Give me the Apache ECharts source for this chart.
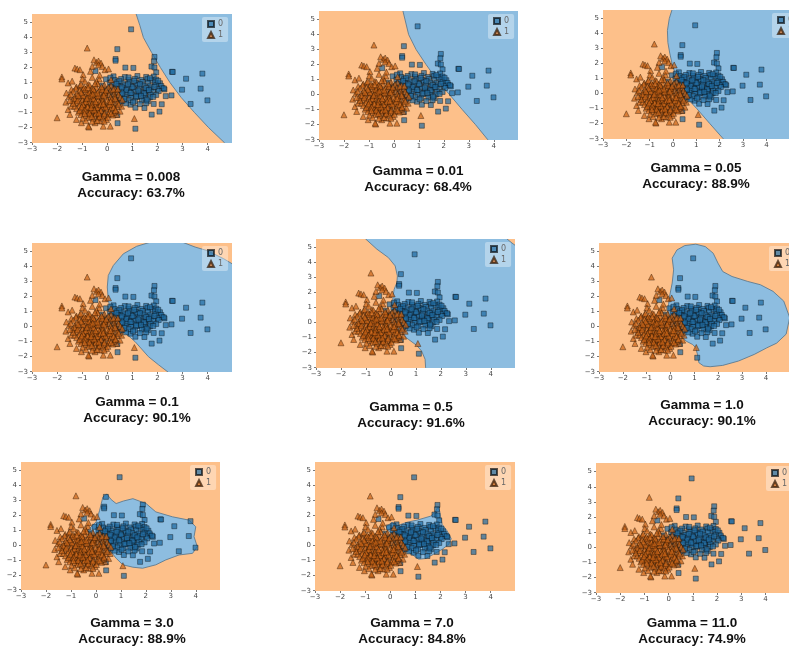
<!DOCTYPE html>
<html>
<head>
<meta charset="utf-8">
<script src="https://cdn.jsdelivr.net/npm/echarts@6/dist/echarts.min.js"></script>
<style>
html,body{margin:0;padding:0;background:#fff;}
#chart{width:789px;height:646px;}
</style>
</head>
<body>
<div id="chart"></div>
<script>
// SVM (RBF kernel) decision regions for several gamma values, same 2-D dataset in every panel.

const gammas = ['0.008', '0.01', '0.05', '0.1', '0.5', '1.0', '3.0', '7.0', '11.0'];
const accuracies = ['63.7%', '68.4%', '88.9%', '90.1%', '91.6%', '90.1%', '88.9%', '84.8%', '74.9%'];
const classNames = ['0', '1'];
const xTicks = [-3, -2, -1, 0, 1, 2, 3, 4];
const yTicks = [-3, -2, -1, 0, 1, 2, 3, 4, 5];

// class 0 samples (squares)
const class0 = [
  [0.95,4.55],[0.40,3.23],[0.33,2.57],[0.33,2.46],[-0.47,1.77],[0.72,2.00],[1.04,1.98],[1.88,2.71],
  [1.86,2.42],[1.76,2.07],[1.88,2.01],[1.95,1.68],[2.58,1.72],[2.61,1.71],[3.14,1.26],[3.79,1.60],
  [2.98,0.53],[3.72,0.60],[3.99,-0.18],[3.32,-0.42],[2.33,0.10],[2.56,0.15],[2.18,0.65],[2.28,0.55],
  [2.17,-0.44],[2.08,-0.93],[1.77,-1.13],[1.48,-0.69],[1.85,-0.42],[1.12,-0.67],[0.92,-0.47],
  [0.41,-1.70],[0.40,-1.15],[1.12,-2.07],
  [0.25,1.42],[0.70,1.37],[1.20,1.44],[1.55,1.38],[1.85,1.41],
  [-0.05,1.22],[0.30,1.17],[0.55,1.24],[0.85,1.19],[1.10,1.25],[1.35,1.18],[1.60,1.23],[1.78,1.16],[1.95,1.21],
  [0.10,0.98],[0.40,1.03],[0.62,0.96],[0.90,1.02],[1.15,0.97],[1.40,1.04],[1.62,0.99],[1.90,1.01],[2.10,0.96],
  [-0.20,0.79],[0.20,0.83],[0.45,0.77],[0.70,0.82],[0.95,0.78],[1.20,0.84],[1.45,0.80],[1.70,0.76],[1.95,0.83],[2.15,0.78],
  [0.00,0.58],[0.30,0.63],[0.55,0.57],[0.80,0.62],[1.05,0.59],[1.28,0.64],[1.50,0.56],[1.75,0.61],[2.00,0.57],[2.25,0.62],
  [0.15,0.42],[0.40,0.37],[0.65,0.43],[0.88,0.38],[1.12,0.41],[1.35,0.36],[1.60,0.43],[1.82,0.39],[2.05,0.44],
  [0.05,0.18],[0.30,0.23],[0.55,0.17],[0.78,0.22],[1.00,0.19],[1.25,0.24],[1.50,0.16],[1.72,0.21],[1.95,0.18],
  [0.20,0.02],[0.45,-0.03],[0.70,0.03],[0.95,-0.02],[1.20,0.04],[1.45,-0.01],[1.70,0.02],
  [0.35,-0.18],[0.60,-0.23],[0.85,-0.17],[1.10,-0.22],[1.38,-0.19],[1.62,-0.24],
  [0.50,-0.42],[0.75,-0.38],[1.30,-0.43],[1.55,-0.37],
  [0.48,1.10],[0.75,0.50],[1.00,0.70],[1.30,0.90],[1.55,0.65],[0.60,0.28],[1.15,0.08],[0.85,1.35],[1.70,1.30],[0.15,0.70],
  [0.36,0.92],[0.58,0.69],[0.83,0.89],[1.07,1.12],[1.24,0.47],[1.47,0.29],[1.66,0.51],[1.88,0.72],[0.93,0.31],
  [0.24,0.51],[0.68,-0.09],[1.03,-0.31],[1.34,0.12],[1.57,-0.13],[1.83,0.05],[0.12,1.33],[2.03,1.12],
  [-0.85,-0.15],[-0.30,0.05],[-0.55,-0.60],[-0.15,-0.95]
];

// class 1 samples (triangles)
const class1 = [
  [-0.80,3.30],[-0.53,2.52],[-0.43,2.35],[-0.35,2.44],[-0.25,2.30],[-0.35,2.19],[-0.20,2.08],[-0.09,1.86],
  [0.05,1.91],[-0.60,2.08],[-0.67,1.75],[-0.96,1.53],[-0.99,1.24],[-1.29,1.97],[-1.20,1.91],[-1.09,1.86],
  [-0.89,1.09],[-0.76,0.87],[-1.56,0.98],[-1.43,0.54],[-1.63,0.31],[-1.23,0.71],[-1.09,0.80],[-0.96,0.58],
  [-0.32,1.24],[-0.43,1.09],
  [-1.81,1.38],[-1.81,1.24],[-2.00,-1.34],[-1.65,-0.30],[-1.56,-0.79],[-1.49,-1.12],[-1.43,-0.57],[-1.52,0.09],
  [-0.73,-1.96],[-0.75,-1.90],[-0.16,-1.90],[0.12,-1.90],[1.08,-1.39],[-1.03,-1.67],[-1.23,-1.45],
  [-0.49,-1.67],[-0.29,-1.56],[-0.03,-1.45],[0.37,-1.12],[0.51,-0.90],[0.57,-0.57],
  [-1.05,0.88],[-0.70,0.82],[-0.38,0.91],[-0.12,0.84],[0.15,0.79],
  [-1.25,0.62],[-0.92,0.68],[-0.60,0.63],[-0.45,0.70],[-0.20,0.61],[0.05,0.67],[0.30,0.60],
  [-1.35,0.43],[-1.10,0.48],[-0.85,0.41],[-0.66,0.47],[-0.50,0.44],[-0.31,0.49],[-0.08,0.42],[0.12,0.46],[0.38,0.40],
  [-1.45,0.22],[-1.20,0.27],[-1.02,0.24],[-0.80,0.29],[-0.62,0.21],[-0.47,0.26],[-0.28,0.23],[-0.10,0.28],[0.07,0.22],[0.27,0.26],[0.45,0.20],
  [-1.30,0.04],[-1.12,0.08],[-0.93,0.02],[-0.76,0.07],[-0.58,0.03],[-0.41,0.09],[-0.22,0.01],[-0.05,0.06],[0.14,0.03],[0.30,0.08],[0.52,0.02],
  [-1.38,-0.17],[-1.16,-0.12],[-0.99,-0.16],[-0.83,-0.11],[-0.69,-0.18],[-0.52,-0.13],[-0.36,-0.15],[-0.18,-0.10],[0.00,-0.17],[0.18,-0.12],[0.36,-0.16],[0.60,-0.14],
  [-1.25,-0.33],[-1.07,-0.38],[-0.90,-0.32],[-0.74,-0.37],[-0.60,-0.34],[-0.44,-0.39],[-0.30,-0.31],[-0.13,-0.36],[0.05,-0.33],[0.22,-0.38],[0.41,-0.32],
  [-1.30,-0.57],[-1.12,-0.52],[-0.95,-0.58],[-0.80,-0.53],[-0.63,-0.56],[-0.48,-0.51],[-0.33,-0.58],[-0.15,-0.54],[0.02,-0.57],[0.20,-0.52],[0.38,-0.59],
  [-1.22,-0.73],[-1.03,-0.78],[-0.86,-0.72],[-0.70,-0.77],[-0.53,-0.74],[-0.38,-0.79],[-0.20,-0.71],[-0.04,-0.76],[0.14,-0.73],[0.33,-0.78],
  [-1.15,-0.97],[-0.95,-0.92],[-0.78,-0.98],[-0.60,-0.93],[-0.44,-0.96],[-0.27,-0.91],[-0.10,-0.99],[0.08,-0.94],[0.26,-0.97],
  [-1.05,-1.13],[-0.85,-1.18],[-0.66,-1.12],[-0.50,-1.17],[-0.32,-1.14],[-0.14,-1.19],[0.05,-1.12],[0.22,-1.16],
  [-0.98,-1.37],[-0.74,-1.32],[-0.55,-1.38],[-0.36,-1.33],[-0.18,-1.36],[0.02,-1.31],
  [-0.85,-1.53],[-0.60,-1.58],[-0.40,-1.52],[-0.12,-1.57],
  [-0.95,0.15],[-0.72,0.35],[-0.55,-0.05],[-0.35,0.12],[-0.18,-0.25],[-0.62,-0.45],[-0.85,-0.25],[-0.40,-0.65],
  [-0.25,-0.85],[-0.10,0.35],[-0.55,0.55],[-0.78,-0.62],[-0.97,-0.45],[-0.45,-1.05],[-0.65,-0.85],[0.10,-0.45],
  [-0.20,0.55],[-1.10,-0.85],[0.25,-0.65],[-0.30,-1.25],
  [-1.28,-0.06],[-1.04,0.36],[-0.87,0.56],[-0.67,0.13],[-0.46,-0.27],[-0.27,-0.46],[-0.07,-0.63],[0.13,-0.26],
  [0.31,-0.05],[0.46,-0.44],[-0.14,0.16],[-0.39,0.31],[-0.58,0.24],[-0.81,-0.04],[-1.02,-0.62],[-1.19,-0.21],
  [-0.71,-1.04],[-0.52,-0.82],[-0.34,-1.02],[-0.12,-1.08],[0.15,-1.05],[-0.89,-0.83],[-1.36,-0.38],[-0.23,0.72],
  [-0.49,0.93],[-0.77,0.66],[0.24,0.55],[0.33,-0.86],[-0.62,-1.26],[-0.90,-1.05],[-0.16,-0.42],[-0.64,-0.66],
  [-0.04,0.5],[0.42,0.58],[-1.16,0.15],[-1.5,-0.2],[-0.3,1.5],[0.15,1.2],[-0.6,1.35],[-1.4,1.1]
];

// class-0 decision region outlines (data units), one list of polygons per gamma
const region008 = [[[1.07,6.0],[1.15,5.57],[1.30,4.8],[1.44,4.0],[1.77,3.0],[2.12,2.0],[2.50,1.0],[2.95,0.0],[3.48,-1.0],[4.04,-2.0],[4.67,-3.0],[4.86,-3.4],[6,-3.4],[6,6.0]]];
const region01 = [[[0.30,6.0],[0.36,5.58],[0.59,4.0],[0.89,3.0],[1.29,2.0],[1.72,1.0],[2.23,0.0],[2.74,-1.0],[3.27,-2.0],[3.76,-3.0],[3.9,-3.4],[6,-3.4],[6,6.0]]];
const region05 = [[[0.0,6.0],[-0.04,5.6],[-0.16,5.0],[-0.24,4.2],[-0.22,3.4],[-0.14,2.7],[-0.04,2.0],[0.16,1.0],[0.46,0.0],[0.72,-0.5],[1.02,-1.0],[1.58,-2.0],[2.15,-3.0],[2.3,-3.4],[7,-3.4],[7,6.0]]];
const region1 = [[[0.0,2.64],[0.04,3.41],[0.24,4.07],[0.64,4.85],[1.17,5.35],[1.71,5.62],[3.0,5.62],[3.5,5.3],[3.97,5.07],[4.64,4.52],[4.97,4.19],[5.5,3.7],[5.5,-3.5],[2.6,-3.5],[2.44,-3.05],[2.05,-2.55],[1.64,-2.0],[1.11,-1.0],[0.85,-0.62],[0.64,-0.33],[0.37,0.11],[0.17,0.88],[0.04,1.76]]];
const region5 = [[[-1.1,6.0],[-1.03,5.6],[-0.56,4.89],[-0.10,4.33],[0.17,3.78],[0.26,3.11],[0.24,2.67],[0.13,2.22],[0.08,1.67],[0.08,0.67],[0.14,-0.22],[0.37,-0.67],[0.70,-1.11],[1.03,-1.51],[1.23,-1.89],[1.37,-2.44],[1.39,-3.0],[1.40,-3.5],[6,-3.5],[6,4.9],[5.0,5.12],[4.85,5.3],[4.63,5.6],[4.55,6.0]]];
const region10 = [[[0.07,4.56],[0.27,5.11],[0.60,5.40],[1.06,5.49],[1.46,5.33],[1.79,4.89],[1.99,4.23],[2.19,3.67],[2.58,3.34],[3.24,3.01],[3.77,2.79],[4.30,2.35],[4.75,1.7],[5.0,0.6],[4.85,-0.5],[4.45,-1.1],[4.04,-1.41],[3.51,-1.85],[2.85,-2.29],[2.19,-2.58],[1.66,-2.67],[1.39,-2.62],[1.19,-2.40],[1.13,-1.85],[1.06,-1.41],[0.93,-1.19],[0.66,-0.97],[0.47,-0.64],[0.37,-0.19],[0.27,0.14],[0.07,0.47],[-0.06,0.80],[-0.09,1.35],[-0.04,2.02],[0.07,2.90],[0.13,3.78]]];
const region30 = [[[-0.32,1.0],[0.01,1.56],[0.15,2.33],[0.28,3.22],[0.44,3.42],[0.61,3.05],[0.81,2.78],[1.10,2.95],[1.48,3.11],[2.01,2.78],[2.40,2.22],[3.07,1.89],[3.73,1.67],[4.0,1.22],[3.93,0.56],[4.06,-0.11],[3.87,-0.56],[3.33,-0.67],[2.80,-1.0],[2.40,-1.33],[1.87,-1.56],[1.48,-1.49],[1.08,-1.33],[0.81,-0.89],[0.55,-0.33],[0.41,-0.11],[0.28,0.33],[0.01,0.56],[-0.25,0.78]]];
const region70 = [[[-0.16,1.26],[0.07,1.56],[0.29,1.34],[0.67,1.56],[1.07,1.70],[1.60,1.96],[1.76,2.18],[1.84,2.40],[1.91,2.58],[1.97,2.29],[2.00,1.96],[2.07,1.41],[2.27,0.97],[2.43,0.46],[2.33,0.09],[2.07,-0.24],[1.73,-0.57],[1.40,-0.86],[1.13,-0.90],[0.91,-0.64],[0.67,-0.35],[0.47,-0.02],[0.27,0.42],[0.11,0.75],[-0.07,0.97]]];
const region110 = [[[0.55,0.85],[0.90,1.10],[1.40,1.18],[1.80,1.10],[1.90,0.70],[1.75,0.25],[1.30,0.02],[0.85,0.08],[0.55,0.40]]];
const regions = [region008, region01, region05, region1, region5, region10, region30, region70, region110];

// panel placement on the page (px)
const layout = [
  {left: 32,  top: 14,  width: 200, height: 129, tx: 131, ty: 177},
  {left: 319, top: 11,  width: 199, height: 129, tx: 418, ty: 171},
  {left: 603, top: 10,  width: 199, height: 129, tx: 696, ty: 168},
  {left: 32,  top: 243, width: 200, height: 129, tx: 137, ty: 402},
  {left: 316, top: 239, width: 199, height: 129, tx: 411, ty: 407},
  {left: 599, top: 243, width: 200, height: 129, tx: 702, ty: 405},
  {left: 21,  top: 462, width: 199, height: 128, tx: 132, ty: 623},
  {left: 315, top: 462, width: 200, height: 129, tx: 412, ty: 623},
  {left: 596, top: 463, width: 200, height: 130, tx: 692, ty: 623}
];

const ORANGE_REGION = '#fdc08a';
const BLUE_REGION = '#8dbde0';
const minus = v => (v < 0 ? '\u2212' + (-v) : String(v));

const chart = echarts.init(document.getElementById('chart'), null, {renderer: 'canvas'});

const grid = [], xAxis = [], yAxis = [], series = [], legend = [], texts = [];

layout.forEach((p, i) => {
  grid.push({left: p.left, top: p.top, width: p.width, height: p.height,
    show: true, backgroundColor: ORANGE_REGION, borderWidth: 0});
  xAxis.push({type: 'value', gridIndex: i, min: -3, max: 4.97, position: 'bottom',
    axisLine: {show: false, onZero: false}, splitLine: {show: false},
    axisTick: {show: true, length: 2, customValues: xTicks, lineStyle: {color: '#555', width: 0.8}},
    axisLabel: {customValues: xTicks, formatter: minus, fontSize: 7, color: '#444',
      margin: 3, fontFamily: 'DejaVu Sans'}});
  yAxis.push({type: 'value', gridIndex: i, min: -3.02, max: 5.57, position: 'left',
    axisLine: {show: false, onZero: false}, splitLine: {show: false},
    axisTick: {show: true, length: 2, customValues: yTicks, lineStyle: {color: '#555', width: 0.8}},
    axisLabel: {customValues: yTicks, formatter: minus, fontSize: 7, color: '#444',
      margin: 4, fontFamily: 'DejaVu Sans'}});

  const polys = regions[i];
  series.push({
    type: 'custom', name: 'region', xAxisIndex: i, yAxisIndex: i, clip: true, silent: true, z: 1,
    data: polys.map((_, k) => k),
    renderItem: (params, api) => ({
      type: 'polygon',
      shape: {points: polys[params.dataIndex].map(pt => api.coord(pt))},
      style: {fill: BLUE_REGION, stroke: '#5d7a90', lineWidth: 0.9}
    })
  });
  series.push({
    type: 'scatter', name: classNames[0], xAxisIndex: i, yAxisIndex: i, z: 2,
    symbol: 'rect', symbolSize: 5, data: class0, silent: true,
    itemStyle: {color: 'rgba(30,105,160,0.88)', borderColor: 'rgba(0,0,0,0.8)', borderWidth: 0.6}
  });
  series.push({
    type: 'scatter', name: classNames[1], xAxisIndex: i, yAxisIndex: i, z: 3,
    symbol: 'triangle', symbolSize: 6, data: class1, silent: true,
    itemStyle: {color: 'rgba(200,98,22,0.88)', borderColor: 'rgba(40,18,0,0.85)', borderWidth: 0.6}
  });

  legend.push({
    left: p.left + p.width - 30, top: p.top + 3, orient: 'vertical',
    data: [{name: classNames[0], icon: 'rect'}, {name: classNames[1], icon: 'triangle'}],
    itemWidth: 6, itemHeight: 6, itemGap: 3,
    padding: [3, 5, 3, 5], backgroundColor: 'rgba(255,255,255,0.35)', borderRadius: 2,
    textStyle: {fontSize: 8, color: '#666', fontFamily: 'DejaVu Sans', padding: [0, 0, 0, -1]},
    selectedMode: false
  });

  const font = {fontSize: 13.5, fontWeight: 'bold', fontFamily: '"Liberation Sans", Arial, sans-serif', fill: '#111',
    textAlign: 'center', textVerticalAlign: 'middle', align: 'center', verticalAlign: 'middle'};
  texts.push({type: 'text', x: p.tx, y: p.ty, style: Object.assign({text: 'Gamma = ' + gammas[i]}, font)});
  texts.push({type: 'text', x: p.tx, y: p.ty + 16, style: Object.assign({text: 'Accuracy: ' + accuracies[i]}, font)});
});

chart.setOption({
  animation: false,
  backgroundColor: '#ffffff',
  grid, xAxis, yAxis, series, legend,
  graphic: {elements: texts}
});
</script>
</body>
</html>
